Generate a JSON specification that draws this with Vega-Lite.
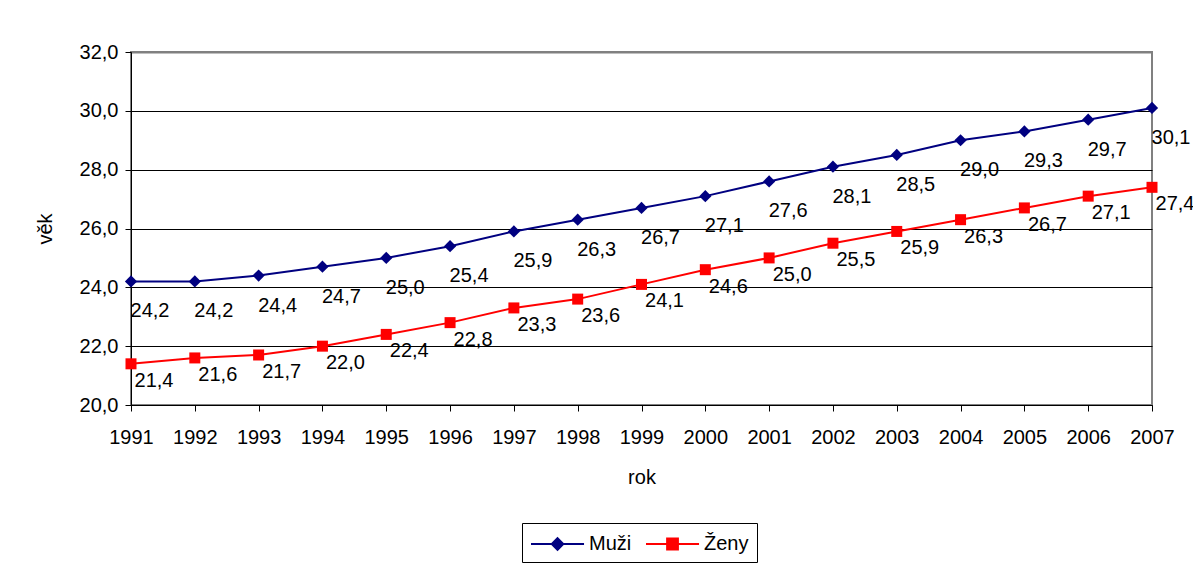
{
  "$schema": "https://vega.github.io/schema/vega-lite/v6.json",
  "width": 1021,
  "height": 353,
  "autosize": {"type": "none"},
  "padding": {"left": 131, "top": 52, "right": 41, "bottom": 163},
  "background": "white",
  "config": {
    "locale": {"number": {"decimal": ",", "thousands": "\u00a0", "grouping": [3], "currency": ["", " Kč"]}},
    "font": "Liberation Sans",
    "view": {"stroke": "#808080", "strokeWidth": 2},
    "axis": {
      "labelFont": "Liberation Sans", "labelFontSize": 20, "labelColor": "black",
      "titleFont": "Liberation Sans", "titleFontSize": 20, "titleFontWeight": "normal", "titleColor": "black",
      "domainColor": "black", "domainWidth": 1, "tickColor": "black", "tickWidth": 1, "tickSize": 6
    },
    "legend": {"labelFont": "Liberation Sans", "labelFontSize": 20, "labelColor": "black"}
  },
  "data": {"values": [
    {"year": 1991, "series": "Muži", "value": 24.2},
    {"year": 1992, "series": "Muži", "value": 24.2},
    {"year": 1993, "series": "Muži", "value": 24.4},
    {"year": 1994, "series": "Muži", "value": 24.7},
    {"year": 1995, "series": "Muži", "value": 25.0},
    {"year": 1996, "series": "Muži", "value": 25.4},
    {"year": 1997, "series": "Muži", "value": 25.9},
    {"year": 1998, "series": "Muži", "value": 26.3},
    {"year": 1999, "series": "Muži", "value": 26.7},
    {"year": 2000, "series": "Muži", "value": 27.1},
    {"year": 2001, "series": "Muži", "value": 27.6},
    {"year": 2002, "series": "Muži", "value": 28.1},
    {"year": 2003, "series": "Muži", "value": 28.5},
    {"year": 2004, "series": "Muži", "value": 29.0},
    {"year": 2005, "series": "Muži", "value": 29.3},
    {"year": 2006, "series": "Muži", "value": 29.7},
    {"year": 2007, "series": "Muži", "value": 30.1},
    {"year": 1991, "series": "Ženy", "value": 21.4},
    {"year": 1992, "series": "Ženy", "value": 21.6},
    {"year": 1993, "series": "Ženy", "value": 21.7},
    {"year": 1994, "series": "Ženy", "value": 22.0},
    {"year": 1995, "series": "Ženy", "value": 22.4},
    {"year": 1996, "series": "Ženy", "value": 22.8},
    {"year": 1997, "series": "Ženy", "value": 23.3},
    {"year": 1998, "series": "Ženy", "value": 23.6},
    {"year": 1999, "series": "Ženy", "value": 24.1},
    {"year": 2000, "series": "Ženy", "value": 24.6},
    {"year": 2001, "series": "Ženy", "value": 25.0},
    {"year": 2002, "series": "Ženy", "value": 25.5},
    {"year": 2003, "series": "Ženy", "value": 25.9},
    {"year": 2004, "series": "Ženy", "value": 26.3},
    {"year": 2005, "series": "Ženy", "value": 26.7},
    {"year": 2006, "series": "Ženy", "value": 27.1},
    {"year": 2007, "series": "Ženy", "value": 27.4}
  ]},
  "encoding": {
    "x": {
      "field": "year", "type": "quantitative",
      "scale": {"domain": [1991, 2007], "nice": false, "zero": false},
      "axis": {
        "title": "rok", "format": "d",
        "values": [1991, 1992, 1993, 1994, 1995, 1996, 1997, 1998, 1999, 2000, 2001, 2002, 2003, 2004, 2005, 2006, 2007],
        "grid": false, "labelPadding": 16, "titlePadding": 20, "labelFlush": false, "labelOverlap": false
      }
    },
    "y": {
      "field": "value", "type": "quantitative",
      "scale": {"domain": [20, 32], "nice": false, "zero": false},
      "axis": {
        "title": "věk", "format": ".1f",
        "values": [20, 22, 24, 26, 28, 30, 32],
        "grid": true,
        "gridColor": {"condition": {"test": "datum.value === 32", "value": "#808080"}, "value": "black"},
        "gridWidth": {"condition": {"test": "datum.value === 32", "value": 2}, "value": 1},
        "labelPadding": 7, "titlePadding": 24, "labelFlush": false
      }
    }
  },
  "layer": [
    {
      "transform": [{"filter": "datum.series === 'Muži'"}],
      "mark": {"type": "line", "color": "#000080", "strokeWidth": 2}
    },
    {
      "transform": [{"filter": "datum.series === 'Ženy'"}],
      "mark": {"type": "line", "color": "#FF0000", "strokeWidth": 2}
    },
    {
      "transform": [{"filter": "datum.series === 'Muži'"}],
      "mark": {"type": "point", "shape": "diamond", "size": 150, "filled": true, "color": "#000080", "opacity": 1}
    },
    {
      "transform": [{"filter": "datum.series === 'Ženy'"}],
      "mark": {"type": "point", "shape": "square", "size": 121, "filled": true, "color": "#FF0000", "opacity": 1}
    },
    {
      "transform": [{"filter": "datum.series === 'Muži'"}],
      "mark": {"type": "text", "dx": 19, "dy": 30, "fontSize": 20, "font": "Liberation Sans", "color": "black", "align": "center", "baseline": "middle"},
      "encoding": {"text": {"field": "value", "type": "quantitative", "format": ".1f"}}
    },
    {
      "transform": [{"filter": "datum.series === 'Ženy'"}],
      "mark": {"type": "text", "dx": 23, "dy": 17, "fontSize": 20, "font": "Liberation Sans", "color": "black", "align": "center", "baseline": "middle"},
      "encoding": {"text": {"field": "value", "type": "quantitative", "format": ".1f"}}
    },
    {
      "transform": [{"filter": "datum.year < 0"}],
      "mark": {"type": "point", "filled": true, "strokeWidth": 2},
      "encoding": {
        "color": {
          "field": "series", "type": "nominal",
          "scale": {"domain": ["Muži", "Ženy"], "range": ["#000080", "#FF0000"]},
          "legend": {
            "title": null, "orient": "none", "legendX": 391, "legendY": 471, "direction": "horizontal",
            "strokeColor": "black", "fillColor": "white", "padding": 8, "symbolSize": 576,
            "symbolStrokeWidth": 2, "labelOffset": 33, "columnPadding": 10, "symbolOpacity": 1
          }
        },
        "stroke": {
          "field": "series", "type": "nominal",
          "scale": {"domain": ["Muži", "Ženy"], "range": ["#000080", "#FF0000"]},
          "legend": {
            "title": null, "orient": "none", "legendX": 391, "legendY": 471, "direction": "horizontal",
            "strokeColor": "black", "fillColor": "white", "padding": 8, "symbolSize": 576,
            "symbolStrokeWidth": 2, "labelOffset": 33, "columnPadding": 10, "symbolOpacity": 1
          }
        },
        "shape": {
          "field": "series", "type": "nominal",
          "scale": {"domain": ["Muži", "Ženy"], "range": ["M-1,0H3.42M1.21,-0.48L1.69,0L1.21,0.48L0.73,0Z", "M-1,0H3.42M0.76,-0.45H1.66V0.45H0.76Z"]},
          "legend": {
            "title": null, "orient": "none", "legendX": 391, "legendY": 471, "direction": "horizontal",
            "strokeColor": "black", "fillColor": "white", "padding": 8, "symbolSize": 576,
            "symbolStrokeWidth": 2, "labelOffset": 33, "columnPadding": 10, "symbolOpacity": 1
          }
        }
      }
    }
  ]
}
